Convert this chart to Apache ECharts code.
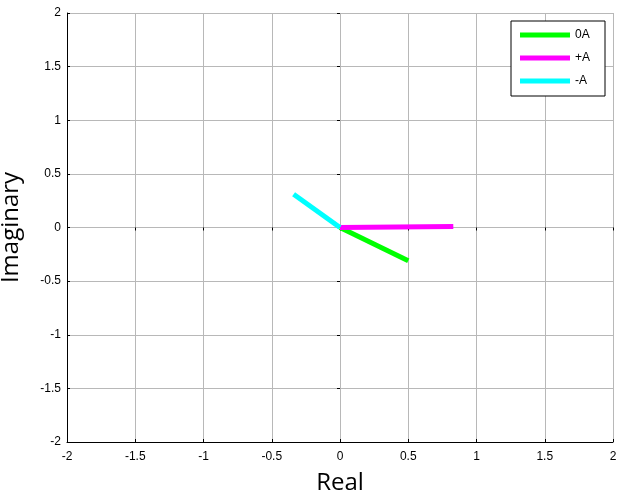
<!DOCTYPE html>
<html>
<head>
<meta charset="utf-8">
<script src="https://cdn.jsdelivr.net/npm/echarts@6/dist/echarts.min.js"></script>
<style>html,body{margin:0;padding:0;background:#fff}#c{width:619px;height:496px}</style>
</head>
<body>
<div id="c"></div>
<script>
// Data (phasor end points, start at origin)
var seriesNames = ['0A', '+A', '-A'];
var seriesColors = ['#00ff00', '#ff00ff', '#00ffff'];
var phasor0A = [[0, 0], [0.5, -0.31]];
var phasorPlusA = [[0, 0], [0.83, 0.01]];
var phasorMinusA = [[0, 0], [-0.34, 0.31]];
var xTicks = [-2, -1.5, -1, -0.5, 0, 0.5, 1, 1.5, 2];
var yTicks = [-2, -1.5, -1, -0.5, 0, 0.5, 1, 1.5, 2];

var seriesData = [phasor0A, phasorPlusA, phasorMinusA];
var tickFont = {color: '#000', fontFamily: 'Liberation Sans, Arial, sans-serif', fontSize: 12};

var chart = echarts.init(document.getElementById('c'), null, {renderer: 'canvas'});
var fmt = function (v) { return String(v); };
var baseX = {
  type: 'value', min: xTicks[0], max: xTicks[xTicks.length - 1], interval: 0.5
};
var baseY = {
  type: 'value', min: yTicks[0], max: yTicks[yTicks.length - 1], interval: 0.5
};
chart.setOption({
  animation: false,
  backgroundColor: '#fff',
  grid: {left: 67, right: 6, top: 13, bottom: 54, containLabel: false, outerBoundsMode: 'none'},
  legend: {
    orient: 'vertical', left: 511, top: 21,
    padding: [8, 15, 9, 9], itemGap: 11,
    itemWidth: 50, itemHeight: 5, icon: 'rect',
    backgroundColor: '#fff', borderColor: '#000', borderWidth: 1,
    textStyle: {color: '#000', fontFamily: 'Liberation Sans, Arial, sans-serif', fontSize: 12},
    data: seriesNames
  },
  xAxis: [
    Object.assign({}, baseX, {
      position: 'bottom',
      name: 'Real', nameLocation: 'middle', nameGap: 29,
      nameTextStyle: {color: '#000', fontFamily: 'Open Sans, sans-serif', fontSize: 24},
      axisLine: {show: true, onZero: false, lineStyle: {color: '#000', width: 1}},
      axisTick: {show: true, inside: true, length: 3, lineStyle: {color: '#000'}},
      axisLabel: Object.assign({margin: 9, formatter: fmt}, tickFont),
      splitLine: {show: true, lineStyle: {color: '#b8b8b8', width: 1}}
    }),
    Object.assign({}, baseX, {
      position: 'top',
      axisLine: {show: false},
      axisTick: {show: true, inside: true, length: 3, lineStyle: {color: '#000'}},
      axisLabel: {show: false},
      splitLine: {show: false}
    })
  ],
  yAxis: [
    Object.assign({}, baseY, {
      position: 'left',
      name: 'Imaginary', nameLocation: 'middle', nameGap: 44,
      nameTextStyle: {color: '#000', fontFamily: 'Open Sans, sans-serif', fontSize: 24},
      axisLine: {show: true, onZero: false, lineStyle: {color: '#000', width: 1}},
      axisTick: {show: true, inside: true, length: 3, lineStyle: {color: '#000'}},
      axisLabel: Object.assign({margin: 6, formatter: fmt}, tickFont),
      splitLine: {show: true, lineStyle: {color: '#b8b8b8', width: 1}}
    }),
    Object.assign({}, baseY, {
      position: 'right',
      axisLine: {show: false},
      axisTick: {show: true, inside: true, length: 3, lineStyle: {color: '#000'}},
      axisLabel: {show: false},
      splitLine: {show: false}
    })
  ],
  series: seriesNames.map(function (n, i) {
    return {
      name: n, type: 'line', data: seriesData[i],
      showSymbol: false, symbol: 'none',
      color: seriesColors[i],
      lineStyle: {color: seriesColors[i], width: 5, cap: 'butt'},
      xAxisIndex: 0, yAxisIndex: 0, z: 3 + i
    };
  })
});
</script>
</body>
</html>
